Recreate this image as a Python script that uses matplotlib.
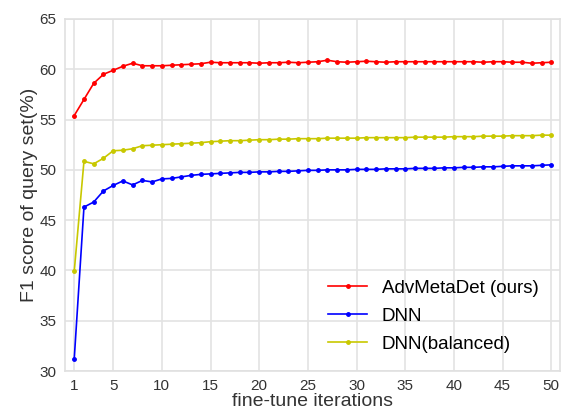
import numpy as np
import matplotlib.pyplot as plt

plt.rcParams['font.family'] = ['Liberation Sans', 'DejaVu Sans']

iters = np.arange(1, 51)
adv = [55.4, 57.0, 58.6, 59.5, 59.9, 60.3, 60.6, 60.35, 60.35, 60.35,
       60.4, 60.45, 60.5, 60.55, 60.7, 60.65, 60.65, 60.65, 60.65, 60.6,
       60.65, 60.65, 60.7, 60.65, 60.7, 60.75, 60.9, 60.75, 60.7, 60.75,
       60.8, 60.75, 60.7, 60.75, 60.75, 60.75, 60.75, 60.75, 60.75, 60.75,
       60.75, 60.75, 60.7, 60.75, 60.75, 60.7, 60.7, 60.6, 60.65, 60.7]
dnn = [31.2, 46.3, 46.8, 47.9, 48.45, 48.9, 48.5, 48.95, 48.8, 49.1,
       49.15, 49.3, 49.45, 49.55, 49.6, 49.65, 49.7, 49.75, 49.75, 49.8,
       49.8, 49.85, 49.85, 49.9, 49.95, 49.95, 50.0, 50.0, 50.0, 50.05,
       50.05, 50.05, 50.1, 50.1, 50.1, 50.15, 50.15, 50.15, 50.2, 50.2,
       50.25, 50.25, 50.3, 50.3, 50.35, 50.4, 50.4, 50.4, 50.45, 50.5]
dnn_bal = [39.9, 50.85, 50.6, 51.15, 51.9, 51.95, 52.1, 52.4, 52.45, 52.5,
           52.55, 52.6, 52.65, 52.7, 52.8, 52.85, 52.9, 52.9, 52.95, 53.0,
           53.0, 53.05, 53.05, 53.1, 53.1, 53.1, 53.15, 53.15, 53.15, 53.15,
           53.2, 53.2, 53.2, 53.2, 53.2, 53.25, 53.25, 53.25, 53.25, 53.3,
           53.3, 53.3, 53.35, 53.35, 53.35, 53.4, 53.4, 53.4, 53.45, 53.45]
xticks = [1, 5, 10, 15, 20, 25, 30, 35, 40, 45, 50]

fig = plt.figure(figsize=(5.68, 4.11), dpi=100)
ax = fig.add_axes([0.1144, 0.0973, 0.8716, 0.8565])

ax.plot(iters, adv, color="r", marker="o", markersize=2.5, linewidth=1.2, label="AdvMetaDet (ours)")
ax.plot(iters, dnn, color="b", marker="o", markersize=2.5, linewidth=1.2, label="DNN")
ax.plot(iters, dnn_bal, color="#c8c800", marker="o", markersize=2.5, linewidth=1.2, label="DNN(balanced)")

ax.set_xlim(0.05, 50.9)
ax.set_ylim(30, 65)
ax.set_xticks(xticks)
ax.set_yticks(np.arange(30, 66, 5))
ax.grid(True, color="#e3e3e3", linewidth=1.2)
ax.set_axisbelow(True)
for s in ax.spines.values():
    s.set_color("#e0e0e0")
    s.set_linewidth(1.2)
ax.tick_params(length=0, labelsize=11, colors="#333333", pad=6)
ax.set_xlabel("fine-tune iterations", fontsize=14, color="#333333", labelpad=0)
ax.set_ylabel("F1 score of query set(%)", fontsize=14, color="#333333", labelpad=1)
ax.legend(loc="lower right", frameon=False, fontsize=13.5, handlelength=2.1,
          handletextpad=0.75, labelspacing=0.58, borderpad=0,
          bbox_to_anchor=(0.975, 0.025))

fig.savefig("out.png", dpi=100)
